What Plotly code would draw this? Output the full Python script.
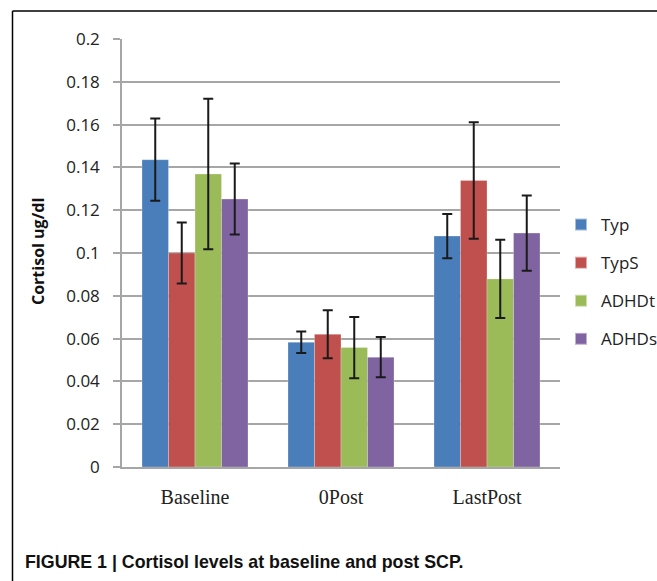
import plotly.graph_objects as go

categories = ["Baseline", "0Post", "LastPost"]
series_names = ["Typ", "TypS", "ADHDt", "ADHDs"]
typ = [0.1436, 0.0583, 0.1079]
typ_err = [0.0192, 0.0050, 0.0103]
typs = [0.1000, 0.0620, 0.1339]
typs_err = [0.0142, 0.0112, 0.0272]
adhdt = [0.1369, 0.0558, 0.0879]
adhdt_err = [0.0352, 0.0143, 0.0183]
adhds = [0.1252, 0.0513, 0.1093]
adhds_err = [0.0166, 0.0094, 0.0176]
y_ticks = [0, 0.02, 0.04, 0.06, 0.08, 0.1, 0.12, 0.14, 0.16, 0.18, 0.2]
y_tick_labels = ["0", "0.02", "0.04", "0.06", "0.08", "0.1", "0.12", "0.14", "0.16", "0.18", "0.2"]

colors = ["#4a7ebb", "#c0504d", "#9bbb59", "#8064a2"]
values = [typ, typs, adhdt, adhds]
errors = [typ_err, typs_err, adhdt_err, adhds_err]

W, H = 657, 581
L, R, T, B = 122, 97, 39, 114
pw, ph = W - L - R, H - T - B

def px(x):
    return (x - L) / pw

def py(y):
    return (H - B - y) / ph

fig = go.Figure()
for name, vals, errs, col in zip(series_names, values, errors, colors):
    fig.add_trace(go.Bar(
        x=categories, y=vals, name=name, legendgroup=name,
        marker=dict(color=col, line=dict(color="rgba(255,255,255,0.5)", width=0.5)),
        error_y=dict(type="data", array=errs, visible=True, color="#1a1a1a",
                     thickness=2, width=5),
    ))

fig.update_layout(
    width=W, height=H,
    margin=dict(l=L, r=R, t=T, b=B, autoexpand=False),
    paper_bgcolor="white", plot_bgcolor="white",
    barmode="group", bargap=0.274, bargroupgap=0,
    showlegend=True,
    legend=dict(x=px(561), y=py(207), xanchor="left", yanchor="top",
                font=dict(family="Open Sans, Liberation Sans, sans-serif", size=17, color="#222"),
                tracegroupgap=13, itemsizing="constant", borderwidth=0),
    xaxis=dict(tickfont=dict(family="Liberation Serif, serif", size=20, color="#222"),
               showline=True, linecolor="#a6a6a6", linewidth=1.5, ticks="",
               ticklabelstandoff=11, showgrid=False),
    yaxis=dict(range=[0, 0.2], tickvals=y_ticks, ticktext=y_tick_labels,
               tickfont=dict(family="Open Sans, Liberation Sans, sans-serif", size=17, color="#222"),
               showgrid=True, gridcolor="#a6a6a6", gridwidth=1.5,
               showline=True, linecolor="#a6a6a6", linewidth=1.5,
               ticks="outside", ticklen=7, tickcolor="#a6a6a6", tickwidth=1.5,
               ticklabelstandoff=10, zeroline=False),
    shapes=[
        dict(type="line", xref="paper", yref="paper", x0=px(12.5), x1=px(660),
             y0=py(11), y1=py(11), line=dict(color="black", width=1.5)),
        dict(type="line", xref="paper", yref="paper", x0=px(12.5), x1=px(12.5),
             y0=py(11), y1=py(585), line=dict(color="black", width=1.5)),
    ],
    annotations=[
        dict(text="<b>Cortisol ug/dl</b>", xref="paper", yref="paper",
             x=px(38), y=py(252), textangle=-90, showarrow=False,
             xanchor="center", yanchor="middle",
             font=dict(family="Open Sans, Liberation Sans, sans-serif", size=16, color="#111")),
        dict(text="<b>FIGURE 1 | Cortisol levels at baseline and post SCP.</b>",
             xref="paper", yref="paper", x=px(23), y=py(562), showarrow=False,
             xanchor="left", yanchor="middle",
             font=dict(family="Liberation Sans Narrow, Liberation Sans, sans-serif", size=17.8, color="#111")),
    ],
)

fig.write_html("out.html", config={"displayModeBar": False},
               post_script="document.body.style.margin='0';document.body.style.overflow='hidden';")
